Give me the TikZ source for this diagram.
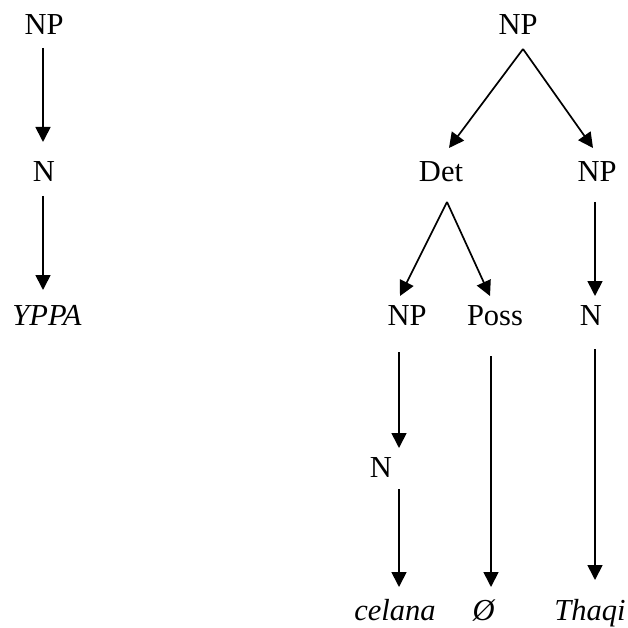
\documentclass[tikz,border=0pt]{standalone}
\usepackage{fontspec}
\setmainfont{Liberation Serif}
\usetikzlibrary{arrows.meta}
\begin{document}
\begin{tikzpicture}[x=1pt,y=-1pt,
  lbl/.style={inner sep=0pt, anchor=base, font=\fontsize{30.5}{36}\selectfont},
  arr/.style={-{Triangle[length=15pt,width=15pt]}, line width=1.7pt}]
\useasboundingbox (0,0) rectangle (627,628);

% left tree
\node[lbl] (np1) at (44,35) {NP};
\node[lbl] (n1) at (44,182) {N};
\node[lbl] (yppa) at (47,325) {\textit{YPPA}};

% right tree
\node[lbl] (npT) at (518,35) {NP};
\node[lbl] (det) at (441,182) {Det};
\node[lbl] (npR) at (597,182) {NP};
\node[lbl] (np3) at (407,325) {NP};
\node[lbl] (poss) at (495,325) {Poss};
\node[lbl] (n3) at (591,325) {N};
\node[lbl] (n4) at (381,477) {N};
\node[lbl] (cel) at (395,620) {\textit{celana}};
\node[lbl] (zero) at (484,620) {\textit{Ø}};
\node[lbl] (thaqi) at (590,620) {\textit{Thaqi}};

% connectors, left
\draw[arr] ([xshift=-1pt,yshift=-13pt]np1.base) -- ([xshift=-1pt,yshift=40pt]n1.base);
\draw[arr] ([xshift=-1pt,yshift=-14pt]n1.base) -- ([xshift=-4pt,yshift=35pt]yppa.base);

% connectors, right
\draw[arr] ([xshift=5pt,yshift=-14pt]npT.base) -- ([xshift=8pt,yshift=34pt]det.base);
\draw[arr] ([xshift=5pt,yshift=-14pt]npT.base) -- ([xshift=-4pt,yshift=34pt]npR.base);
\draw[arr] ([xshift=6pt,yshift=-20pt]det.base) -- ([xshift=-7pt,yshift=29pt]np3.base);
\draw[arr] ([xshift=6pt,yshift=-20pt]det.base) -- ([xshift=-5pt,yshift=29pt]poss.base);
\draw[arr] ([xshift=-2pt,yshift=-20pt]npR.base) -- ([xshift=4pt,yshift=29pt]n3.base);
\draw[arr] ([xshift=-8pt,yshift=-27pt]np3.base) -- ([xshift=18pt,yshift=29pt]n4.base);
\draw[arr] ([xshift=18pt,yshift=-12pt]n4.base) -- ([xshift=4pt,yshift=33pt]cel.base);
\draw[arr] ([xshift=-4pt,yshift=-31pt]poss.base) -- ([xshift=7pt,yshift=33pt]zero.base);
\draw[arr] ([xshift=4pt,yshift=-24pt]n3.base) -- ([xshift=5pt,yshift=40pt]thaqi.base);
\end{tikzpicture}
\end{document}
